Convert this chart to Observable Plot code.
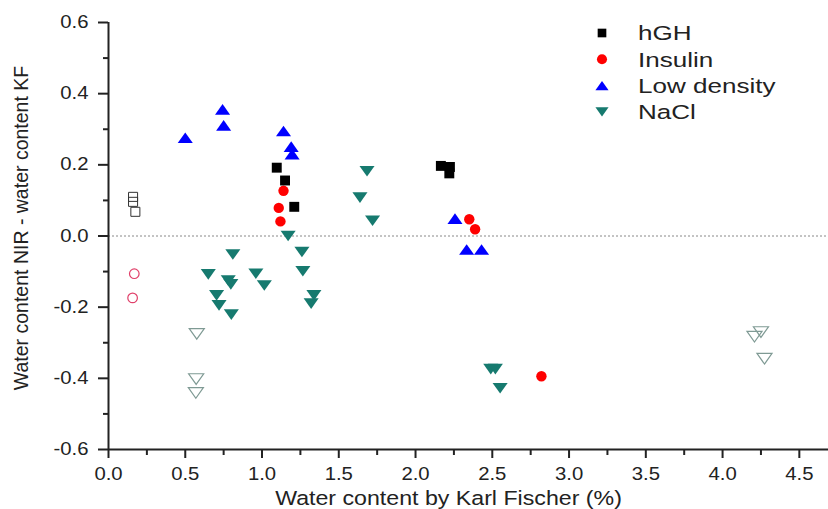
<!DOCTYPE html>
<html><head><meta charset="utf-8">
<script src="https://cdn.jsdelivr.net/npm/d3@7"></script>
<script src="https://cdn.jsdelivr.net/npm/@observablehq/plot@0.6"></script>
<style>
html,body{margin:0;padding:0;background:#fff;}
#chart{width:828px;height:509px;position:relative;}
</style></head><body><div id="chart"></div>
<script>
// ---- data ----
const hghX = [1.096, 1.15, 1.21, 2.165, 2.224, 2.22];
const hghY = [0.192, 0.156, 0.082, 0.197, 0.194, 0.176];
const hghOpenX = [0.16, 0.16, 0.175];
const hghOpenY = [0.110, 0.096, 0.068];
const insX = [1.14, 1.109, 1.12, 2.35, 2.388, 2.82];
const insY = [0.127, 0.079, 0.041, 0.047, 0.019, -0.394];
const insOpenX = [0.168, 0.157];
const insOpenY = [-0.106, -0.174];
const lowX = [0.50, 0.743, 0.75, 1.14, 1.19, 1.196, 2.257, 2.333, 2.43];
const lowY = [0.276, 0.356, 0.311, 0.295, 0.251, 0.230, 0.049, -0.038, -0.038];
const naclX = [1.684, 1.638, 1.72, 1.17, 1.26, 0.81, 0.65, 0.96, 1.266, 0.78, 0.797, 1.015, 0.704, 0.72, 1.338, 1.32, 0.80, 2.49, 2.52, 2.551];
const naclY = [0.182, 0.108, 0.043, 0.0, -0.045, -0.052, -0.108, -0.106, -0.099, -0.125, -0.136, -0.139, -0.167, -0.195, -0.167, -0.19, -0.221, -0.374, -0.374, -0.428];
const naclOpenX = [0.575, 0.571, 0.569, 4.25, 4.208, 4.273];
const naclOpenY = [-0.275, -0.402, -0.441, -0.270, -0.283, -0.345];

const xMajor = [0, 0.5, 1, 1.5, 2, 2.5, 3, 3.5, 4, 4.5];
const xMinor = [0.25, 0.75, 1.25, 1.75, 2.25, 2.75, 3.25, 3.75, 4.25];
const yMajor = [-0.6, -0.4, -0.2, 0, 0.2, 0.4, 0.6];
const yMinor = [-0.5, -0.3, -0.1, 0.1, 0.3, 0.5];

const legendLabels = ["hGH", "Insulin", "Low density", "NaCl"];
const xTitle = "Water content by Karl Fischer (%)";
const yTitle = "Water content NIR - water content KF";

const teal = "#167a6f";
const colors = {hGH: "#000000", Insulin: "#ff0000", "Low density": "#0000ff", NaCl: teal};

const pts = (xs, ys) => xs.map((x, i) => ({x, y: ys[i]}));

const triUp = {draw(ctx, size) { const s = Math.sqrt(size); const hw = s * 0.85, hh = s * 0.6;
  ctx.moveTo(0, -hh); ctx.lineTo(hw, hh); ctx.lineTo(-hw, hh); ctx.closePath(); }};
const triDown = {draw(ctx, size) { const s = Math.sqrt(size); const hw = s * 0.85, hh = s * 0.6;
  ctx.moveTo(0, hh); ctx.lineTo(hw, -hh); ctx.lineTo(-hw, -hh); ctx.closePath(); }};

const axisColor = "#222";
const plot = Plot.plot({
  width: 828, height: 509,
  marginLeft: 108, marginRight: 0, marginTop: 22, marginBottom: 60,
  x: {domain: [0, 4.69]},
  y: {domain: [-0.6, 0.6]},
  style: {fontFamily: "'Liberation Sans', Arial, sans-serif", fontSize: "17.5px", color: "#222", background: "#fff"},
  marks: [
    Plot.ruleY([0], {stroke: "#888", strokeWidth: 1, strokeDasharray: "2,2"}),
    Plot.axisX({ticks: xMinor, tickSize: 6, tickFormat: () => "", stroke: axisColor, strokeWidth: 2, label: null}),
    Plot.axisX({ticks: xMajor, tickSize: 9, tickPadding: 9, tickFormat: d => d.toFixed(1), stroke: axisColor, strokeWidth: 2, label: null}),
    Plot.axisY({ticks: yMinor, tickSize: 5, tickFormat: () => "", stroke: axisColor, strokeWidth: 2, label: null}),
    Plot.axisY({ticks: yMajor, tickSize: 10, tickPadding: 10, tickFormat: d => d.toFixed(1), stroke: axisColor, strokeWidth: 2, label: null}),
    Plot.ruleX([0], {stroke: axisColor, strokeWidth: 2}),
    Plot.ruleY([-0.6], {stroke: axisColor, strokeWidth: 2}),
    Plot.dot(pts(hghOpenX, hghOpenY), {x: "x", y: "y", symbol: "square", r: 5.1, stroke: "#333", strokeWidth: 1, fill: "none"}),
    Plot.dot(pts(insOpenX, insOpenY), {x: "x", y: "y", symbol: "circle", r: 4.8, stroke: "#e0406a", strokeWidth: 1.2, fill: "none"}),
    Plot.dot(pts(naclOpenX, naclOpenY), {x: "x", y: "y", symbol: triDown, r: 5, stroke: "#7f9a94", strokeWidth: 1.2, fill: "none"}),
    Plot.dot(pts(naclX, naclY), {x: "x", y: "y", symbol: triDown, r: 5, fill: teal, stroke: "none"}),
    Plot.dot(pts(lowX, lowY), {x: "x", y: "y", symbol: triUp, r: 5, fill: colors["Low density"], stroke: "none"}),
    Plot.dot(pts(insX, insY), {x: "x", y: "y", symbol: "circle", r: 5.2, fill: colors.Insulin, stroke: "none"}),
    Plot.dot(pts(hghX, hghY), {x: "x", y: "y", symbol: "square", r: 5.6, fill: colors.hGH, stroke: "none"}),
    Plot.text([xTitle], {frameAnchor: "bottom", lineAnchor: "middle", textAnchor: "middle", dx: -20, dy: 48.5, fontSize: 20.5, fill: "#222"}),
    Plot.text([yTitle], {frameAnchor: "left", lineAnchor: "middle", textAnchor: "middle", rotate: -90, dx: -87, dy: -8, fontSize: 19.5, fill: "#222"})
  ]
});
document.getElementById("chart").appendChild(plot);

// legend
const svg = d3.select(plot);
const legSyms = [d3.symbolSquare, d3.symbolCircle, triUp, triDown];
const legSizes = [75, 80, 60, 60];
const lg = svg.append("g").attr("class", "legend").attr("text-anchor", "start");
legendLabels.forEach((name, i) => {
  const cy = 33 + i * 26.3;
  lg.append("path").attr("transform", `translate(602,${cy})`)
    .attr("d", d3.symbol(legSyms[i], legSizes[i])()).attr("fill", colors[name]);
  lg.append("text").attr("x", 638).attr("y", cy).attr("dy", "0.36em")
    .attr("text-anchor", "start")
    .attr("font-size", 20.5).attr("fill", "#222").attr("class", "leg").text(name);
});

// horizontally stretched lettering, as in the reference image (not the rotated title)
svg.selectAll("text").each(function() {
  if (this.textContent === yTitle) return;
  const len = this.getComputedTextLength();
  if (!len) return;
  const k = this.classList.contains("leg") ? 1.27 : this.textContent === xTitle ? 1.13 : 1.16;
  this.setAttribute("textLength", len * k);
  this.setAttribute("lengthAdjust", "spacingAndGlyphs");
});
</script></body></html>
